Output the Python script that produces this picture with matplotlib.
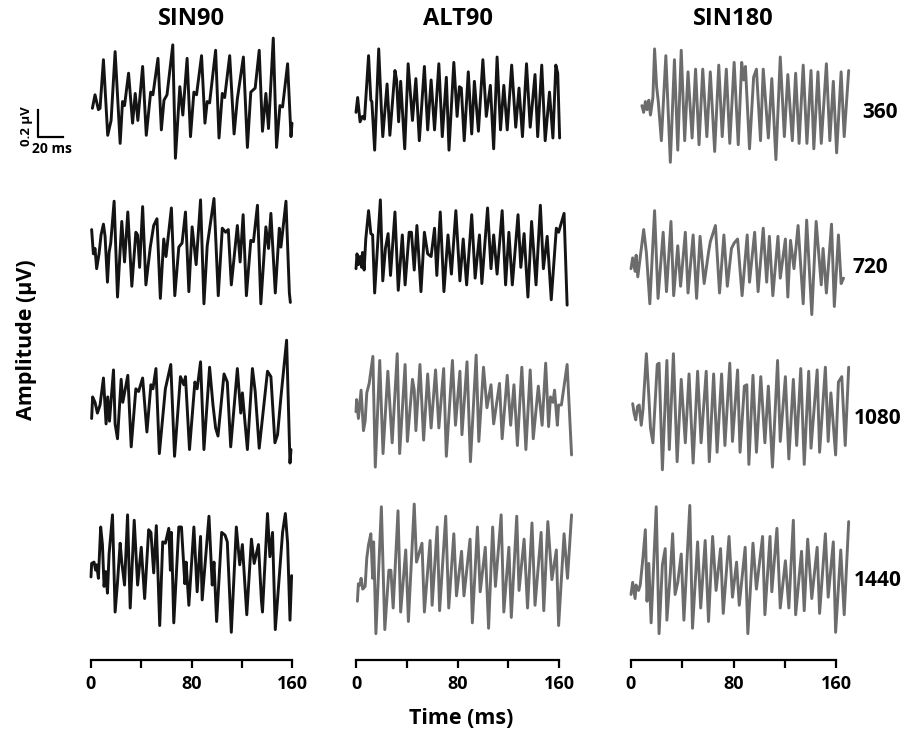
import matplotlib
matplotlib.use('Agg')
import matplotlib.pyplot as plt

plt.rcParams['font.family'] = ['Open Sans', 'DejaVu Sans']
plt.rcParams['font.weight'] = 'bold'

columns = ['SIN90', 'ALT90', 'SIN180']
rates = ['360', '720', '1080', '1440']
time_ticks = [0, 40, 80, 120, 160]
time_labels = ['0', '', '80', '', '160']

# (time ms, amplitude uV)
sin90_360 = [(1.1, -0.08), (3.2, 0.02), (5.9, -0.09), (7.2, -0.08), (9.9, 0.28), (13.3, -0.28), (16.0, -0.17),
             (19.2, 0.34), (23.2, -0.34), (25.1, -0.03), (26.7, -0.06), (29.9, 0.18), (33.1, -0.19), (35.2, 0.03),
             (37.3, -0.17), (41.1, 0.23), (44.0, -0.28), (47.5, 0.04), (49.3, 0.02), (53.3, 0.29), (56.0, -0.24),
             (58.1, -0.02), (60.5, 0.02), (65.1, 0.39), (67.2, -0.45), (70.7, 0.08), (73.1, -0.13), (76.5, 0.29),
             (79.2, -0.29), (81.9, 0.04), (84.0, 0.02), (88.0, 0.31), (90.7, -0.19), (92.5, -0.03), (94.4, -0.04),
             (99.2, 0.35), (101.9, -0.30), (104.5, 0.03), (106.4, 0.00), (110.4, 0.31), (113.9, -0.27), (116.5, -0.01),
             (121.3, 0.30), (124.5, -0.37), (127.2, 0.04), (130.7, 0.07), (133.9, 0.35), (136.5, -0.25), (139.2, 0.03),
             (141.3, -0.23), (145.1, 0.44), (147.7, -0.37), (150.4, -0.06), (152.5, -0.07), (156.5, 0.25),
             (159.2, -0.29), (160.0, -0.19)]
alt90_360 = [(0.0, -0.11), (1.3, 0.00), (3.2, -0.18), (5.1, -0.14), (6.7, -0.16), (9.9, 0.31), (11.7, -0.02),
             (12.5, -0.03), (14.7, -0.39), (17.9, 0.36), (20.0, -0.09), (21.1, -0.29), (24.5, 0.10), (26.7, -0.28),
             (30.7, 0.20), (32.0, 0.13), (33.6, -0.18), (35.2, 0.12), (38.4, -0.38), (41.1, 0.25), (44.5, -0.17),
             (47.2, 0.14), (49.9, -0.32), (53.9, 0.23), (56.5, -0.24), (59.2, 0.13), (61.9, -0.24), (65.3, 0.25),
             (68.0, -0.29), (71.2, 0.15), (73.3, -0.39), (77.1, 0.26), (79.7, -0.14), (81.5, 0.08), (83.0, 0.07),
             (85.3, -0.32), (88.5, 0.19), (91.2, -0.27), (93.3, 0.12), (96.5, -0.25), (100.0, 0.28), (102.7, -0.14),
             (105.9, 0.09), (108.5, -0.38), (111.2, 0.30), (113.9, -0.24), (116.5, 0.09), (119.2, -0.24),
             (122.7, 0.24), (125.9, -0.22), (128.5, 0.07), (131.2, -0.29), (134.4, 0.25), (137.3, -0.22),
             (141.1, 0.17), (143.2, -0.29), (146.4, 0.24), (149.1, -0.32), (152.5, 0.04), (155.2, -0.30),
             (157.5, 0.24), (159.0, 0.18), (160.5, -0.30)]
sin180_360 = [(8.5, -0.06), (9.9, -0.11), (11.2, -0.03), (12.5, -0.09), (13.9, -0.02), (15.2, -0.13), (17.1, 0.00),
              (18.4, 0.36), (20.0, 0.08), (21.3, -0.03), (23.7, -0.32), (27.2, 0.31), (30.7, -0.48), (33.9, 0.28),
              (36.5, -0.39), (39.2, 0.35), (41.9, -0.32), (44.5, 0.19), (47.7, -0.30), (50.4, 0.21), (53.1, -0.35),
              (56.0, 0.21), (59.2, -0.29), (61.9, 0.19), (65.3, -0.40), (68.5, 0.24), (71.2, -0.29), (74.4, 0.21),
              (77.1, -0.34), (80.5, 0.26), (83.7, -0.35), (86.4, 0.26), (88.0, 0.13), (89.3, 0.23), (92.5, -0.38),
              (95.7, 0.15), (97.9, 0.21), (101.1, -0.32), (103.2, 0.21), (107.2, -0.30), (109.9, 0.14), (113.1, -0.46),
              (116.5, 0.30), (119.7, -0.29), (122.4, 0.17), (125.9, -0.32), (128.5, 0.18), (131.2, -0.34),
              (134.4, 0.24), (137.3, -0.34), (140.5, 0.20), (142.7, -0.38), (145.9, 0.19), (148.5, -0.34),
              (152.5, 0.25), (155.2, -0.32), (157.9, 0.12), (160.5, -0.41), (164.0, 0.19), (166.4, -0.29),
              (169.9, 0.20)]

sin90_720 = [(0.5, 0.17), (1.9, -0.01), (3.2, 0.03), (4.5, -0.12), (6.4, -0.01), (8.0, 0.13), (9.9, 0.21), (11.2, 0.12),
             (13.1, -0.22), (14.4, 0.00), (15.7, 0.07), (18.4, 0.38), (21.1, -0.33), (24.5, 0.23), (26.7, -0.07),
             (29.3, 0.30), (32.5, -0.25), (35.7, 0.15), (37.1, 0.13), (38.7, -0.11), (41.1, 0.34), (43.7, -0.24),
             (47.2, 0.04), (49.9, 0.20), (52.5, 0.25), (55.2, -0.34), (57.9, 0.10), (59.7, -0.03), (64.0, 0.33),
             (66.7, -0.32), (69.9, 0.04), (72.5, 0.07), (75.2, 0.30), (77.9, -0.29), (80.5, 0.19), (83.7, -0.09),
             (87.2, 0.39), (89.9, -0.38), (92.5, 0.05), (97.9, 0.40), (101.3, -0.32), (104.5, 0.18), (107.2, 0.15),
             (109.3, 0.17), (111.7, -0.24), (116.5, 0.20), (118.7, -0.07), (121.1, 0.28), (123.7, -0.32),
             (127.2, 0.09), (129.3, 0.08), (132.5, 0.35), (135.2, -0.38), (139.2, 0.19), (141.3, 0.03), (143.2, 0.29),
             (146.7, -0.30), (149.9, 0.18), (151.2, 0.04), (155.2, 0.38), (157.9, -0.30), (158.7, -0.37)]
alt90_720 = [(0.0, -0.12), (0.8, -0.01), (1.9, -0.09), (3.2, -0.03), (4.5, -0.11), (5.1, 0.00), (6.4, -0.13),
             (7.7, 0.10), (9.9, 0.31), (11.7, 0.14), (13.1, 0.13), (14.7, -0.30), (19.2, 0.39), (21.1, -0.21),
             (23.2, 0.03), (25.3, 0.14), (27.2, -0.17), (30.7, 0.30), (33.3, -0.28), (36.5, 0.13), (38.7, -0.24),
             (41.9, 0.15), (43.7, 0.15), (45.9, -0.13), (48.0, 0.20), (51.2, -0.29), (53.9, 0.15), (56.5, -0.01),
             (59.2, -0.03), (61.9, 0.18), (63.7, -0.17), (66.4, 0.30), (69.3, -0.29), (72.5, 0.13), (75.2, -0.16),
             (78.7, 0.31), (81.9, -0.21), (84.5, 0.10), (87.2, -0.24), (91.2, 0.28), (93.9, -0.19), (97.3, 0.13),
             (99.2, -0.23), (103.7, 0.33), (106.4, -0.12), (108.5, 0.13), (111.2, -0.16), (115.2, 0.31),
             (117.9, -0.24), (120.5, 0.15), (123.2, -0.24), (127.7, 0.28), (129.9, -0.11), (132.5, 0.14),
             (135.5, -0.33), (138.4, 0.23), (141.9, -0.24), (145.3, 0.35), (147.7, -0.12), (150.7, 0.12),
             (153.9, -0.35), (157.9, 0.18), (159.7, 0.15), (164.0, 0.29), (166.4, -0.39)]
sin180_720 = [(0.0, -0.12), (1.3, -0.04), (3.2, -0.14), (4.0, -0.02), (5.3, -0.18), (9.9, 0.17), (12.0, 0.00),
              (14.7, -0.38), (18.4, 0.31), (21.1, -0.34), (25.1, 0.15), (27.7, -0.29), (31.2, 0.23), (33.3, -0.32),
              (36.5, 0.05), (38.7, -0.25), (42.4, 0.15), (44.5, -0.30), (48.5, 0.13), (51.2, -0.34), (53.9, 0.12),
              (57.1, -0.23), (60.5, 0.00), (61.9, 0.08), (65.9, 0.20), (69.1, -0.30), (72.5, 0.13), (75.2, -0.25),
              (78.4, 0.03), (80.5, 0.07), (83.2, 0.10), (86.7, -0.32), (90.7, 0.13), (92.5, -0.22), (96.5, 0.15),
              (99.2, -0.29), (103.2, 0.18), (105.9, -0.22), (108.0, 0.12), (110.7, -0.32), (114.7, 0.12),
              (116.5, -0.19), (120.5, 0.10), (122.4, -0.33), (124.5, 0.09), (127.2, -0.12), (130.4, 0.20),
              (134.4, -0.38), (137.1, 0.24), (141.1, -0.46), (144.5, 0.23), (148.5, -0.24), (149.9, 0.03),
              (152.5, -0.30), (156.5, 0.21), (158.7, -0.40), (161.9, 0.13), (164.0, -0.23), (165.9, -0.19)]

sin90_1080 = [(0.5, -0.10), (1.3, 0.06), (3.2, 0.02), (5.1, -0.06), (7.2, 0.00), (9.9, 0.20), (12.0, -0.14),
              (13.3, 0.06), (14.7, -0.12), (17.9, 0.26), (19.2, -0.14), (21.1, -0.25), (24.0, 0.19), (25.3, 0.02),
              (29.3, 0.22), (32.0, -0.31), (35.7, 0.12), (37.9, 0.10), (41.1, 0.20), (44.5, -0.20), (47.7, 0.15),
              (49.3, 0.12), (51.7, 0.27), (54.4, -0.36), (59.2, 0.12), (63.5, 0.30), (66.5, -0.38), (71.2, 0.21),
              (73.9, 0.15), (75.2, 0.21), (78.4, -0.33), (82.7, 0.17), (84.5, 0.12), (87.2, 0.32), (89.9, -0.33),
              (94.4, 0.28), (97.1, 0.00), (99.2, -0.17), (101.1, -0.23), (105.9, 0.23), (108.5, 0.17), (111.2, -0.31),
              (116.5, 0.27), (119.2, -0.06), (120.5, 0.09), (124.5, -0.33), (128.5, 0.27), (130.7, 0.10),
              (133.9, -0.32), (140.5, 0.25), (143.2, 0.21), (146.4, -0.28), (148.5, -0.22), (151.2, 0.06),
              (155.7, 0.48), (158.4, -0.43), (159.2, -0.33)]
alt90_1080 = [(0.0, -0.05), (0.5, 0.04), (1.9, -0.10), (4.0, 0.11), (5.9, -0.19), (7.2, -0.12), (8.5, 0.09),
              (10.4, 0.16), (13.3, 0.36), (15.2, -0.46), (18.7, 0.33), (21.3, -0.36), (25.1, 0.25), (28.5, -0.28),
              (32.5, 0.38), (34.4, -0.36), (38.7, 0.30), (40.5, -0.27), (44.5, 0.19), (45.9, 0.11), (47.2, -0.19),
              (50.4, 0.30), (53.3, -0.26), (56.5, 0.23), (59.2, -0.17), (62.7, 0.26), (65.3, -0.17), (69.1, 0.27),
              (71.2, -0.38), (76.0, 0.33), (78.4, -0.15), (81.9, 0.25), (83.5, -0.22), (87.5, 0.32), (90.2, -0.42),
              (94.7, 0.37), (96.8, -0.27), (100.5, 0.28), (103.2, -0.02), (106.4, 0.15), (108.5, -0.14),
              (113.1, 0.16), (115.2, -0.25), (119.2, 0.22), (121.9, -0.15), (124.5, 0.15), (127.2, -0.30),
              (130.7, 0.28), (133.9, -0.33), (137.3, 0.26), (139.7, -0.25), (143.7, 0.14), (146.7, -0.15),
              (149.5, 0.31), (151.8, -0.16), (153.3, 0.06), (155.2, 0.02), (156.5, 0.11), (158.7, -0.15),
              (159.7, 0.00), (161.9, 0.00), (166.4, 0.30), (169.9, -0.37)]
sin180_1080 = [(1.3, 0.01), (2.4, -0.06), (3.7, -0.11), (5.1, -0.01), (6.4, 0.00), (8.0, -0.15), (9.3, -0.04),
               (12.0, 0.38), (13.9, 0.07), (15.2, -0.17), (17.1, -0.28), (20.5, 0.30), (21.9, 0.31), (24.5, -0.48),
               (28.0, 0.33), (29.9, -0.33), (33.1, 0.38), (36.0, -0.42), (39.2, 0.19), (42.4, -0.28), (45.3, 0.23),
               (48.5, -0.43), (52.0, 0.25), (54.7, -0.28), (58.7, 0.25), (61.1, -0.42), (64.5, 0.23), (67.2, -0.35),
               (70.7, 0.23), (73.3, -0.30), (77.1, 0.31), (79.2, -0.27), (83.2, 0.26), (85.1, -0.35), (88.5, 0.14),
               (90.4, 0.15), (92.0, -0.44), (95.2, 0.22), (97.9, -0.35), (101.3, 0.21), (104.5, -0.28), (107.2, 0.14),
               (110.4, -0.46), (114.4, 0.33), (116.5, -0.27), (120.5, 0.21), (123.2, -0.40), (126.7, 0.19),
               (129.3, -0.30), (132.5, 0.27), (135.2, -0.44), (138.7, 0.25), (140.5, -0.32), (145.3, 0.26),
               (147.2, -0.35), (151.7, 0.28), (153.9, -0.27), (156.0, 0.09), (159.7, -0.37), (161.9, 0.17),
               (164.5, 0.21), (167.2, -0.30), (169.9, 0.28)]

sin90_1440 = [(0.0, -0.07), (0.5, 0.03), (2.4, 0.04), (3.7, -0.02), (4.5, 0.02), (5.9, -0.08), (7.7, 0.30),
              (9.1, 0.17), (10.4, -0.14), (11.7, -0.03), (13.1, -0.19), (14.4, 0.10), (17.1, 0.39), (19.2, -0.33),
              (21.1, -0.11), (23.2, 0.18), (24.5, 0.04), (26.7, -0.13), (29.1, 0.39), (31.2, -0.30), (34.4, 0.35),
              (35.7, 0.12), (37.1, -0.13), (40.0, 0.15), (42.7, -0.23), (45.9, 0.28), (47.7, 0.26), (49.9, -0.04),
              (52.0, 0.31), (54.7, -0.43), (57.1, 0.19), (59.2, 0.18), (61.9, 0.29), (63.2, -0.02), (64.0, 0.26),
              (65.9, -0.41), (69.9, 0.30), (72.0, 0.30), (74.7, -0.12), (75.7, 0.04), (77.9, -0.28), (81.9, 0.30),
              (84.5, -0.18), (87.2, 0.23), (88.5, -0.24), (93.9, 0.38), (96.5, -0.13), (97.9, 0.04), (100.0, -0.40),
              (104.0, 0.26), (106.7, 0.24), (108.5, 0.19), (111.7, -0.48), (115.7, 0.30), (118.4, 0.02),
              (120.5, 0.17), (124.0, -0.35), (127.7, 0.21), (129.9, 0.03), (133.3, 0.17), (135.7, -0.25),
              (136.5, -0.33), (140.5, 0.40), (142.4, 0.08), (144.5, 0.26), (146.7, -0.46), (152.5, 0.26),
              (154.7, 0.40), (156.5, 0.18), (158.4, -0.39), (159.7, -0.06)]
alt90_1440 = [(1.1, -0.25), (1.9, -0.12), (3.2, -0.13), (4.0, -0.08), (5.3, -0.16), (7.2, -0.14), (8.5, 0.07),
              (9.9, 0.17), (11.7, 0.25), (13.1, -0.08), (13.9, 0.19), (15.7, -0.49), (20.0, 0.45), (22.7, -0.46),
              (25.9, -0.02), (27.5, -0.02), (29.3, -0.30), (33.1, 0.42), (35.2, -0.33), (39.2, 0.13), (41.3, -0.40),
              (45.9, 0.47), (47.7, 0.04), (52.0, 0.18), (53.9, -0.33), (58.4, 0.20), (60.0, -0.28), (64.0, 0.30),
              (65.9, -0.32), (70.7, 0.38), (73.1, -0.30), (77.1, 0.25), (79.2, -0.21), (83.2, 0.12), (85.1, -0.21),
              (89.9, 0.21), (91.7, -0.41), (95.7, 0.30), (97.9, -0.18), (101.9, 0.15), (104.5, -0.45), (107.7, 0.30),
              (109.9, -0.14), (114.4, 0.39), (116.5, -0.33), (120.5, 0.15), (122.4, -0.37), (126.7, 0.38),
              (128.5, -0.17), (132.5, 0.21), (135.2, -0.30), (138.7, 0.33), (141.1, -0.28), (145.9, 0.26),
              (148.0, -0.32), (151.2, 0.34), (154.4, -0.09), (157.9, 0.13), (159.7, -0.43), (164.0, 0.25),
              (166.7, -0.08), (169.9, 0.39)]
sin180_1440 = [(0.0, -0.20), (1.3, -0.11), (3.2, -0.23), (4.0, -0.13), (5.9, -0.17), (7.2, -0.13), (9.3, 0.07),
               (11.2, 0.28), (12.5, -0.25), (13.9, 0.03), (15.7, -0.41), (19.7, 0.45), (21.9, -0.49), (24.5, 0.02),
               (26.7, 0.14), (28.0, -0.39), (30.7, -0.04), (32.5, 0.25), (34.4, -0.20), (36.5, -0.11), (39.2, 0.10),
               (41.3, -0.39), (45.9, 0.46), (48.0, -0.45), (52.0, 0.19), (54.4, -0.30), (57.9, 0.20), (60.5, -0.40),
               (63.7, 0.23), (66.4, -0.17), (69.9, 0.14), (72.0, -0.34), (76.5, 0.23), (79.2, -0.22), (82.4, 0.04),
               (84.5, -0.28), (89.1, 0.15), (91.2, -0.49), (95.2, 0.18), (97.9, -0.16), (102.7, 0.23), (104.5, -0.35),
               (108.5, 0.23), (109.9, -0.18), (113.9, 0.29), (116.5, -0.30), (120.5, 0.05), (123.2, -0.30),
               (126.7, 0.35), (128.5, -0.35), (133.1, 0.12), (135.2, -0.32), (137.9, 0.21), (141.1, -0.23),
               (145.3, 0.15), (147.2, -0.34), (151.7, 0.25), (153.9, -0.22), (157.9, 0.19), (159.7, -0.48),
               (163.7, 0.13), (166.4, -0.35), (169.9, 0.34)]

traces = {
    'SIN90': [sin90_360, sin90_720, sin90_1080, sin90_1440],
    'ALT90': [alt90_360, alt90_720, alt90_1080, alt90_1440],
    'SIN180': [sin180_360, sin180_720, sin180_1080, sin180_1440],
}

# styling / layout
BLACK = '#141414'
GRAY = '#6c6c6c'
colors = {
    'SIN90': [BLACK, BLACK, BLACK, BLACK],
    'ALT90': [BLACK, BLACK, GRAY, GRAY],
    'SIN180': [GRAY, GRAY, GRAY, GRAY],
}
W, H = 919, 736
uv_per_px = 0.2 / 27
ax_bottom_px, ax_top_px = 660, 25
y_top = (ax_bottom_px - ax_top_px) * uv_per_px
row_offsets = [(ax_bottom_px - c) * uv_per_px for c in (97.5, 252.5, 405, 567.5)]
col_px = [(91, 201), (356, 203), (631, 205)]

fig = plt.figure(figsize=(W / 100, H / 100), dpi=100)

axes = []
for ci, name in enumerate(columns):
    left, width = col_px[ci]
    ax = fig.add_axes([left / W, (H - ax_bottom_px) / H, width / W, (ax_bottom_px - ax_top_px) / H])
    ax.set_xlim(0, 160)
    ax.set_ylim(0, y_top)
    for ri in range(len(rates)):
        pts = traces[name][ri]
        t = [p[0] for p in pts]
        v = [p[1] + row_offsets[ri] for p in pts]
        ax.plot(t, v, color=colors[name][ri], lw=2.1, clip_on=False,
                solid_joinstyle='round', solid_capstyle='round')
    for s in ['top', 'left', 'right']:
        ax.spines[s].set_visible(False)
    ax.spines['bottom'].set_linewidth(1.6)
    ax.set_yticks([])
    ax.set_xticks(time_ticks)
    ax.set_xticklabels(time_labels)
    ax.tick_params(axis='x', direction='out', length=6, width=1.6, labelsize=13, pad=5)
    for lab in ax.get_xticklabels():
        lab.set_fontweight('bold')
    ax.patch.set_visible(False)
    fig.text((left + width / 2) / W, 1 - 19 / H, name, ha='center', va='center',
             fontsize=17, fontweight='bold')
    axes.append(ax)

# row labels
for rate, (xp, yp) in zip(rates, [(880, 112), (870, 268), (878, 418), (878, 580)]):
    fig.text(xp / W, 1 - yp / H, rate, ha='center', va='center', fontsize=15, fontweight='bold')

# scale bar in the first panel
ax0 = axes[0]
sb_t0, sb_y0 = -42.4, (ax_bottom_px - 137) * uv_per_px
ax0.plot([sb_t0, sb_t0, sb_t0 + 20], [sb_y0 + 0.2, sb_y0, sb_y0], color='black', lw=1.6, clip_on=False)
ax0.text(sb_t0 - 9, sb_y0 + 0.08, '0.2 μV', rotation=90, ha='center', va='center', fontsize=9.5,
         fontweight='bold')
ax0.text(sb_t0 + 11, sb_y0 - 0.09, '20 ms', ha='center', va='center', fontsize=10, fontweight='bold')

fig.text(27 / W, 1 - 340 / H, 'Amplitude (μV)', rotation=90, ha='center', va='center',
         fontsize=15.5, fontweight='bold')
fig.text(461 / W, 1 - 718 / H, 'Time (ms)', ha='center', va='center', fontsize=15.5, fontweight='bold')

fig.savefig('out.png', dpi=100)
